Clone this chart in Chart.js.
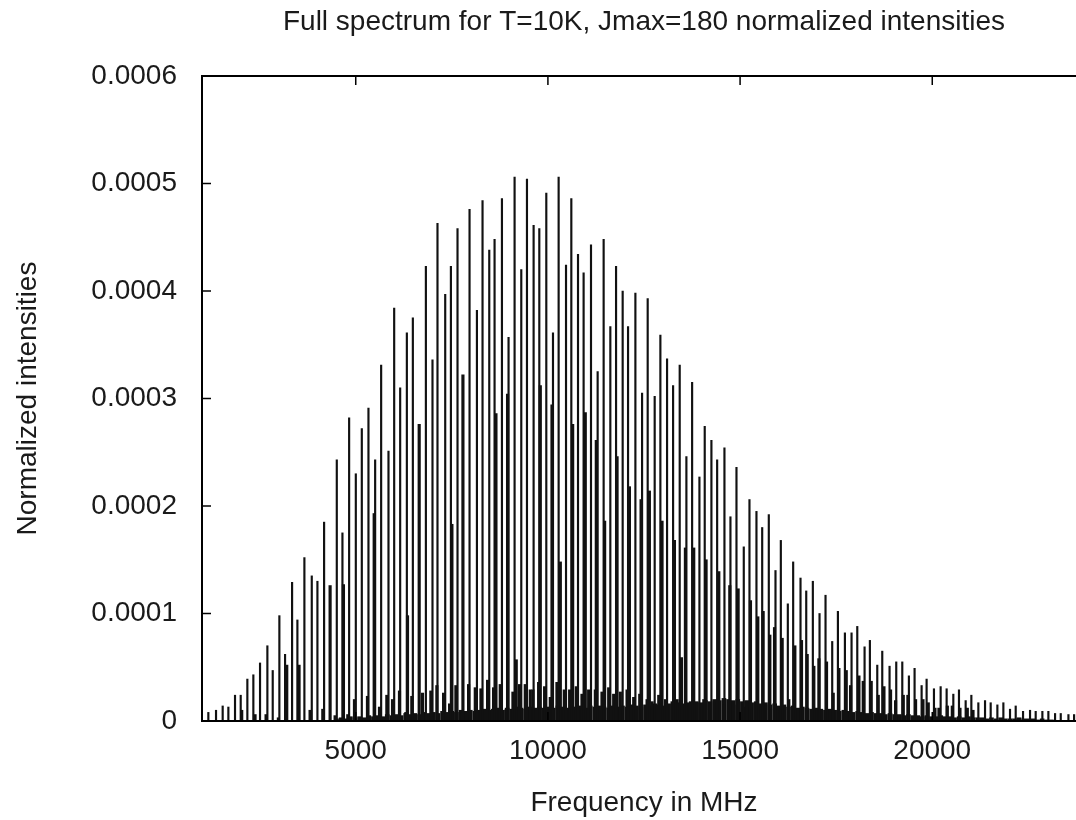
<!DOCTYPE html>
<html>
<head>
<meta charset="utf-8">
<title>Full spectrum</title>
<script src="https://cdn.jsdelivr.net/npm/chart.js@4.4.1/dist/chart.umd.min.js"></script>
<style>
    html, body { margin: 0; padding: 0; background: #fff; overflow: hidden; }
    #wrap { width: 1090px; height: 820px; }
</style>
</head>
<body>
<div id="wrap"><canvas id="spectrum-chart" width="1090" height="820"></canvas></div>
<script>
// intensities are in units of 1e-4
const lineFreq = [1165, 1365, 1538, 1686, 1859, 2007, 2180, 2336, 2510, 2701, 2840, 3013, 3161, 3344, 3482, 3664, 3856, 4003, 4177, 4507,
    4654, 4828, 5002, 5158, 5331, 5505, 5661, 5852, 6000, 6156, 6330, 6486, 6825, 6997, 7127, 7328, 7476, 7648, 7961, 8153,
    8299, 8474, 8612, 8804, 8976, 9133, 9307, 9455, 9628, 9776, 9958, 10132, 10279, 10471, 10609, 10783, 10929, 11121, 11294, 11450,
    11624, 11773, 11945, 12085, 12276, 12450, 12596, 12778, 12926, 13100, 13257, 13429, 13603, 13752, 13942, 14080, 14254, 14403, 14593, 14749,
    14906, 15096, 15244, 15426, 15575, 15747, 15921, 16060, 16242, 16381, 16572, 16721, 16893, 17067, 17223, 17397, 17545, 17727, 17900, 18049,
    18239, 18377, 18569, 18699, 18889, 19063, 19220, 19392, 19540, 19723, 19853, 20044, 20218, 20374, 20548, 20695, 20869, 21017, 21199, 21373,
    21520, 21694, 21850, 22023, 22171, 22362, 22544, 22691, 22865, 23021, 23195, 23343, 23543, 23690]
const lineInt = [0.08, 0.10, 0.14, 0.13, 0.24, 0.24, 0.39, 0.43, 0.54, 0.70, 0.47, 0.98, 0.62, 1.29, 0.94, 1.52, 1.35, 1.30, 1.85, 2.43,
    1.75, 2.82, 2.30, 2.72, 2.91, 2.43, 3.31, 2.51, 3.84, 3.10, 3.61, 3.75, 4.23, 3.36, 4.63, 3.97, 4.23, 4.58, 4.76, 3.82,
    4.84, 4.38, 4.48, 4.86, 3.57, 5.06, 4.20, 5.04, 4.61, 4.58, 4.91, 3.61, 5.06, 4.24, 4.86, 4.34, 4.17, 4.43, 3.25, 4.48,
    3.67, 4.23, 4.00, 3.67, 3.98, 3.05, 3.93, 3.02, 3.59, 3.37, 3.12, 3.31, 2.46, 3.15, 2.27, 2.74, 2.61, 2.43, 2.54, 1.90,
    2.36, 1.62, 2.06, 1.95, 1.80, 1.92, 1.40, 1.68, 1.09, 1.48, 1.33, 1.21, 1.30, 1.00, 1.17, 0.74, 1.02, 0.82, 0.82, 0.88,
    0.69, 0.75, 0.52, 0.65, 0.51, 0.55, 0.55, 0.42, 0.49, 0.33, 0.39, 0.30, 0.32, 0.30, 0.25, 0.29, 0.19, 0.24, 0.17, 0.19,
    0.17, 0.15, 0.17, 0.11, 0.14, 0.09, 0.10, 0.09, 0.09, 0.09, 0.07, 0.07, 0.06, 0.06]

// the thick (blended doublet) lines
const doubletFreq = [3205, 3525, 4333, 4680, 5480, 6347, 6651, 7502, 7789, 8648, 8950, 9802, 10106, 10323, 10644, 10972, 11259, 11476, 11799, 12120,
    12424, 12640, 12969, 13292, 13577, 13794, 14115, 14446, 14732, 14949, 15270, 15461, 15600, 15774, 15896, 16095, 16268, 16425, 16598, 16746,
    16919, 17050, 17249, 17423, 17571, 17762, 17874, 18092, 18204, 18412, 18595, 18743, 18915, 19046, 19246, 19366, 19566, 19758, 19896, 20070,
    20174, 20392, 20522, 20721, 20912, 21060]
const doubletInt = [0.52, 0.52, 1.26, 1.27, 1.93, 0.98, 2.76, 1.83, 3.22, 2.86, 3.04, 3.12, 2.94, 1.48, 2.76, 2.87, 2.61, 1.86, 2.46, 2.18,
    2.06, 2.14, 1.86, 1.68, 1.61, 1.61, 1.50, 1.39, 1.26, 1.23, 1.12, 0.97, 1.02, 0.80, 0.87, 0.77, 0.20, 0.70, 0.75, 0.62,
    0.51, 0.58, 0.55, 0.26, 0.49, 0.47, 0.33, 0.42, 0.37, 0.37, 0.24, 0.32, 0.29, 0.19, 0.24, 0.24, 0.20, 0.20, 0.17, 0.12,
    0.12, 0.14, 0.14, 0.12, 0.12, 0.10]

const weakFreq = [2033, 2380, 2667, 2987, 3812, 4143, 4463, 4793, 4967, 5132, 5305, 5618, 5809, 5957, 6138, 6303, 6459, 6737, 6954, 7111,
    7285, 7441, 7606, 7762, 7936, 8110, 8257, 8430, 8586, 8760, 8916, 9090, 9176, 9263, 9411, 9541, 9610, 9758, 9914, 10062,
    10235, 10426, 10565, 10739, 10886, 11060, 11234, 11407, 11581, 11711, 11885, 12059, 12232, 12389, 12580, 12710, 12884, 13057, 13231, 13361,
    13474, 13708, 13882, 14056, 14229, 14403, 14577, 14707, 14924, 15098, 15271, 15445, 15619, 15792, 15966]
const weakInt = [0.10, 0.06, 0.06, 0.03, 0.10, 0.11, 0.05, 0.06, 0.20, 0.03, 0.23, 0.13, 0.24, 0.20, 0.28, 0.08, 0.23, 0.26, 0.28, 0.33,
    0.26, 0.16, 0.33, 0.08, 0.34, 0.31, 0.30, 0.38, 0.31, 0.34, 0.11, 0.27, 0.57, 0.34, 0.34, 0.29, 0.29, 0.36, 0.32, 0.22,
    0.36, 0.29, 0.29, 0.32, 0.25, 0.29, 0.29, 0.27, 0.31, 0.25, 0.27, 0.29, 0.22, 0.25, 0.20, 0.18, 0.24, 0.20, 0.18, 0.20,
    0.59, 0.18, 0.17, 0.20, 0.17, 0.17, 0.15, 0.17, 0.15, 0.13, 0.13, 0.11, 0.11, 0.11, 0.10]

// dense band of very weak transitions along the baseline
const baseFreq = [4500, 4620, 4740, 4860, 4980, 5100, 5220, 5340, 5460, 5580, 5700, 5820, 5940,
    6060, 6180, 6300, 6420, 6540, 6660, 6780, 6900, 7020, 7140, 7260, 7380, 7500, 7620, 7740, 7860, 7980,
    8100, 8220, 8340, 8460, 8580, 8700, 8820, 8940, 9060, 9180, 9300, 9420, 9540, 9660, 9780, 9900,
    10020, 10140, 10260, 10380, 10500, 10620, 10740, 10860, 10980, 11100, 11220, 11340, 11460, 11580, 11700, 11820, 11940,
    12060, 12180, 12300, 12420, 12540, 12660, 12780, 12900, 13020, 13140, 13260, 13380, 13500, 13620, 13740, 13860, 13980,
    14100, 14220, 14340, 14460, 14580, 14700, 14820, 14940, 15060, 15180, 15300, 15420, 15540, 15660, 15780, 15900,
    16020, 16140, 16260, 16380, 16500, 16620, 16740, 16860, 16980, 17100, 17220, 17340, 17460, 17580, 17700, 17820, 17940,
    18060, 18180, 18300, 18420, 18540, 18660, 18780, 18900, 19020, 19140, 19260, 19380, 19500, 19620, 19740, 19860, 19980,
    20100, 20220, 20340, 20460, 20580, 20700, 20820, 20940, 21060, 21180, 21300, 21420, 21540, 21660, 21780, 21900,
    22020, 22140, 22260, 22380, 22500, 22620, 22740, 22860, 22980, 23100]
const baseInt = [0.02, 0.03, 0.02, 0.04, 0.03, 0.04, 0.03, 0.05, 0.04, 0.05, 0.04, 0.06, 0.05,
    0.06, 0.05, 0.07, 0.06, 0.07, 0.06, 0.08, 0.07, 0.08, 0.07, 0.09, 0.08, 0.09, 0.08, 0.10, 0.09, 0.10,
    0.09, 0.10, 0.11, 0.10, 0.11, 0.12, 0.10, 0.12, 0.11, 0.13, 0.12, 0.11, 0.13, 0.12, 0.13, 0.12,
    0.13, 0.12, 0.14, 0.13, 0.12, 0.14, 0.13, 0.14, 0.12, 0.14, 0.13, 0.14, 0.13, 0.12, 0.14, 0.13, 0.14,
    0.13, 0.15, 0.14, 0.13, 0.15, 0.14, 0.16, 0.15, 0.14, 0.16, 0.15, 0.17, 0.16, 0.17, 0.16, 0.18, 0.17,
    0.19, 0.18, 0.20, 0.19, 0.21, 0.20, 0.19, 0.20, 0.18, 0.19, 0.17, 0.18, 0.16, 0.17, 0.15, 0.16,
    0.14, 0.15, 0.13, 0.14, 0.12, 0.13, 0.12, 0.11, 0.12, 0.11, 0.10, 0.11, 0.10, 0.09, 0.10, 0.09, 0.08,
    0.09, 0.08, 0.07, 0.08, 0.07, 0.07, 0.06, 0.07, 0.06, 0.06, 0.05, 0.06, 0.05, 0.05, 0.04, 0.05, 0.04,
    0.04, 0.05, 0.04, 0.04, 0.03, 0.04, 0.03, 0.04, 0.03, 0.03, 0.03, 0.02, 0.03, 0.02, 0.03, 0.02,
    0.02, 0.02, 0.03, 0.02, 0.02, 0.02, 0.01, 0.02, 0.01, 0.01]

const xTickValues = [5000, 10000, 15000, 20000]
const yTickValues = [0, 0.0001, 0.0002, 0.0003, 0.0004, 0.0005, 0.0006]

const FONT = "'Liberation Sans', Arial, sans-serif"
const FONT_SIZE = 28
const TEXT_COLOR = '#1a1a1a'

function toPoints(freqs, ints) {
    return freqs.map((f, i) => ({ x: f, y: ints[i] * 1e-4 }))
}

function impulses(freqs, ints, thickness) {
    return {
        data: toPoints(freqs, ints),
        backgroundColor: '#111',
        barThickness: thickness,
        grouped: false,
        borderWidth: 0
    }
}

// gnuplot style border with inward ticks on all four sides
const framePlugin = {
    id: 'frame',
    afterDatasetsDraw(chart) {
        const ctx = chart.ctx
        const a = chart.chartArea
        const x = chart.scales.x
        const y = chart.scales.y
        ctx.save()
        ctx.strokeStyle = '#000'
        ctx.lineWidth = 1.5
        ctx.beginPath()
        x.ticks.forEach(t => {
            const px = x.getPixelForValue(t.value)
            ctx.moveTo(px, a.bottom)
            ctx.lineTo(px, a.bottom - 9)
            ctx.moveTo(px, a.top)
            ctx.lineTo(px, a.top + 9)
        })
        y.ticks.forEach(t => {
            const py = y.getPixelForValue(t.value)
            ctx.moveTo(a.left, py)
            ctx.lineTo(a.left + 9, py)
            ctx.moveTo(a.right, py)
            ctx.lineTo(a.right - 9, py)
        })
        ctx.stroke()
        ctx.lineWidth = 2
        ctx.strokeRect(a.left, a.top, a.right - a.left, a.bottom - a.top)
        ctx.restore()
    }
}

const ctx = document.getElementById('spectrum-chart').getContext('2d')
const chart = new Chart(ctx, {
    type: 'bar',
    data: {
        datasets: [
            impulses(lineFreq, lineInt, 1.5),
            impulses(doubletFreq, doubletInt, 2.5),
            impulses(weakFreq, weakInt, 2.5),
            impulses(baseFreq, baseInt, 4)
        ]
    },
    options: {
        responsive: false,
        devicePixelRatio: 1,
        animation: false,
        layout: { padding: { left: 0, right: 4, top: 0, bottom: 0 } },
        plugins: {
            legend: { display: false },
            tooltip: { enabled: false },
            title: {
                display: true,
                text: 'Full spectrum for T=10K, Jmax=180 normalized intensities',
                fullSize: false,
                color: TEXT_COLOR,
                font: { family: FONT, size: FONT_SIZE, weight: 'normal' },
                padding: { top: 5, bottom: 37.4 }
            }
        },
        scales: {
            x: {
                type: 'linear',
                min: 1000,
                max: 24000,
                offset: false,
                grid: { display: false, drawTicks: false },
                border: { display: false },
                afterBuildTicks: scale => { scale.ticks = xTickValues.map(v => ({ value: v })) },
                afterFit: scale => { scale.height = 99 },
                ticks: {
                    color: TEXT_COLOR,
                    padding: 13,
                    maxRotation: 0,
                    font: { family: FONT, size: FONT_SIZE },
                    callback: v => String(v)
                },
                title: {
                    display: true,
                    text: 'Frequency in MHz',
                    color: TEXT_COLOR,
                    font: { family: FONT, size: FONT_SIZE },
                    padding: { top: 0, bottom: 0 }
                }
            },
            y: {
                min: 0,
                max: 0.0006,
                grid: { display: false, drawTicks: false },
                border: { display: false },
                afterBuildTicks: scale => { scale.ticks = yTickValues.map(v => ({ value: v })) },
                afterFit: scale => { scale.width = 202 },
                ticks: {
                    color: TEXT_COLOR,
                    padding: 25,
                    font: { family: FONT, size: FONT_SIZE },
                    callback: v => v === 0 ? '0' : v.toFixed(4)
                },
                title: {
                    display: true,
                    text: 'Normalized intensities',
                    color: TEXT_COLOR,
                    font: { family: FONT, size: FONT_SIZE },
                    padding: { top: 11, bottom: 0 }
                }
            }
        }
    },
    plugins: [framePlugin]
})
</script>
</body>
</html>
